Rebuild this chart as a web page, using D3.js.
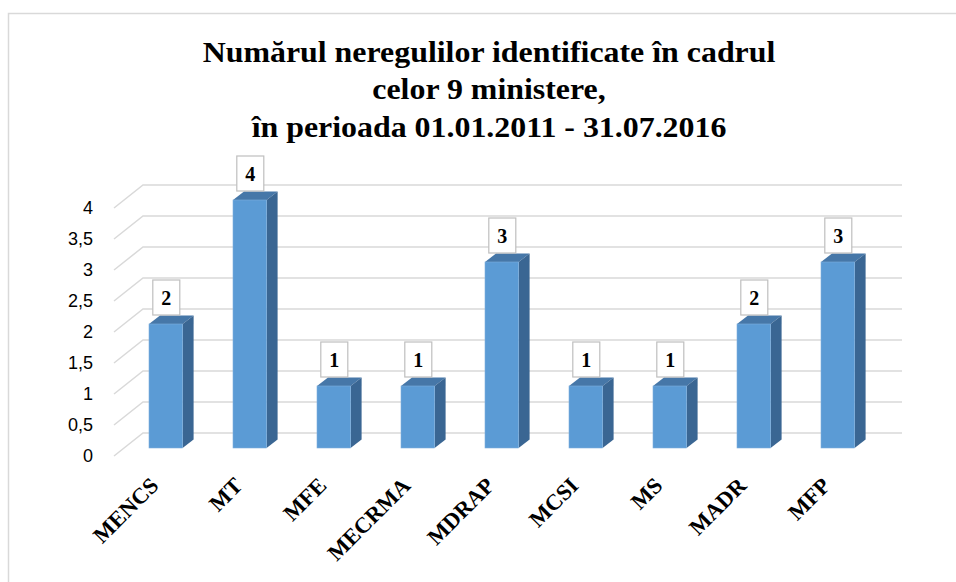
<!DOCTYPE html>
<html>
<head>
<meta charset="utf-8">
<script src="https://cdn.jsdelivr.net/npm/d3@7"></script>
<style>
  body { margin: 0; background: #fff; }
  svg { display: block; }
</style>
</head>
<body>
<svg id="chart"></svg>
<script>
// chart data
var ministries = ["MENCS", "MT", "MFE", "MECRMA", "MDRAP", "MCSI", "MS", "MADR", "MFP"]
var counts = [2, 4, 1, 1, 3, 1, 1, 2, 3]
var yTicks = [0, 0.5, 1, 1.5, 2, 2.5, 3, 3.5, 4]
var titleLines = [
  "Numărul neregulilor identificate în cadrul",
  "celor 9 ministere,",
  "în perioada 01.01.2011 - 31.07.2016"
]

// magic numbers for the fake 3d look
var vis = {
  "width": 956,
  "height": 582,
  "wallLeft": 143,
  "wallRight": 902,
  "frontDx": -29,   // front edge of the floor vs the back wall
  "frontDy": 23,
  "barBack": 15,    // back wall sits this far above the bars' base
  "depthX": 11,     // side face of a bar
  "depthY": -8.5
}

var serif = "'Liberation Serif', 'Times New Roman', serif"

var svg = d3.select("#chart")
  .attr("width", vis.width)
  .attr("height", vis.height)

// outer frame
svg.append("rect")
  .attr("x", 8.5).attr("y", 13.5)
  .attr("width", 1000).attr("height", 700)
  .attr("fill", "none")
  .attr("stroke", "#d9d9d9")
  .attr("stroke-width", 1.5)

var xScale = d3.scaleBand()
  .domain(ministries)
  .range([123.8, 879.8])
  .paddingInner(0.6)
  .paddingOuter(0.3)

var yScale = d3.scaleLinear()
  .domain([0, 4])
  .range([448, 200])

// grid lines: diagonal on the floor side + line along the back wall
var grid = svg.append("g").attr("id", "grid")
grid.selectAll("path")
  .data(yTicks)
  .enter()
  .append("path")
  .attr("d", function(d) {
    let yb = yScale(d) - vis.barBack
    return "M" + (vis.wallLeft + vis.frontDx) + "," + (yb + vis.frontDy) +
      "L" + vis.wallLeft + "," + yb + "L" + vis.wallRight + "," + yb
  })
  .attr("fill", "none")
  .attr("stroke", "#d9d9d9")
  .attr("stroke-width", 1.5)

// y tick labels, placed on the front edge
svg.append("g")
  .selectAll("text")
  .data(yTicks)
  .enter()
  .append("text")
  .attr("x", 93)
  .attr("y", function(d) { return yScale(d) - vis.barBack + vis.frontDy })
  .attr("text-anchor", "end")
  .attr("dominant-baseline", "central")
  .style("font-family", "'Liberation Sans', Arial, sans-serif")
  .style("font-size", "18px")
  .style("fill", "#000")
  .text(function(d) { return String(d).replace(".", ",") })

// bars
var bars = svg.append("g").attr("id", "bars")
  .selectAll("g")
  .data(counts)
  .enter()
  .append("g")

var bw = xScale.bandwidth()

// top face
bars.append("path")
  .attr("d", function(d, i) {
    let x = xScale(ministries[i]), y = yScale(d)
    return "M" + x + "," + y + "L" + (x + vis.depthX) + "," + (y + vis.depthY) +
      "L" + (x + bw + vis.depthX) + "," + (y + vis.depthY) + "L" + (x + bw) + "," + y + "Z"
  })
  .attr("fill", "#4677a8")

// side face
bars.append("path")
  .attr("d", function(d, i) {
    let x = xScale(ministries[i]) + bw, y = yScale(d), y0 = yScale(0)
    return "M" + x + "," + y + "L" + (x + vis.depthX) + "," + (y + vis.depthY) +
      "L" + (x + vis.depthX) + "," + (y0 + vis.depthY) + "L" + x + "," + y0 + "Z"
  })
  .attr("fill", "#3a6693")

// front face
bars.append("rect")
  .attr("x", function(d, i) { return xScale(ministries[i]) })
  .attr("y", function(d) { return yScale(d) })
  .attr("width", bw)
  .attr("height", function(d) { return yScale(0) - yScale(d) })
  .attr("fill", "#5b9bd5")
  .attr("stroke", "#7fb0de")
  .attr("stroke-width", 0.6)

// data labels in little boxes
var labels = svg.append("g").attr("id", "labels")
  .selectAll("g")
  .data(counts)
  .enter()
  .append("g")
  .attr("transform", function(d, i) {
    return "translate(" + (xScale(ministries[i]) + bw / 2 + 0.5) + "," + (yScale(d) - 9) + ")"
  })

labels.append("rect")
  .attr("x", -13.5).attr("y", -35)
  .attr("width", 27).attr("height", 35)
  .attr("fill", "#fff")
  .attr("stroke", "#bfbfbf")
  .attr("stroke-width", 1.2)

labels.append("text")
  .attr("y", -10)
  .attr("text-anchor", "middle")
  .style("font-family", serif)
  .style("font-weight", "bold")
  .style("font-size", "20px")
  .text(function(d) { return d })

// rotated category labels
svg.append("g").attr("id", "x-labels")
  .selectAll("text")
  .data(ministries)
  .enter()
  .append("text")
  .attr("transform", function(d) {
    return "translate(" + (xScale(d) + bw / 2 - 6) + ",487) rotate(-45)"
  })
  .attr("text-anchor", "end")
  .style("font-family", serif)
  .style("font-weight", "bold")
  .style("font-size", "22.5px")
  .text(function(d) { return d })

// title (the original is a bit stretched sideways)
svg.append("g").attr("id", "title")
  .attr("transform", "translate(489,0) scale(1.1,1)")
  .selectAll("text")
  .data(titleLines)
  .enter()
  .append("text")
  .attr("x", 0)
  .attr("y", function(d, i) { return 62 + i * 37.5 })
  .attr("text-anchor", "middle")
  .style("font-family", serif)
  .style("font-weight", "bold")
  .style("font-size", "29px")
  .text(function(d) { return d })
</script>
</body>
</html>
